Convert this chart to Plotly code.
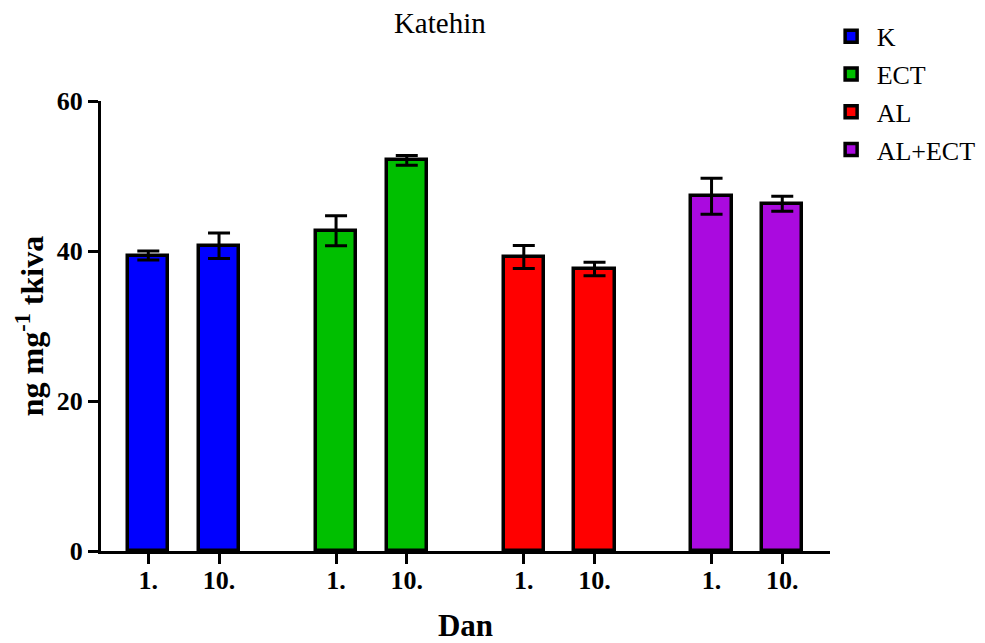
import plotly.graph_objects as go

groups = ["K", "ECT", "AL", "AL+ECT"]
days = ["1.", "10."]
means = {
    "K": [39.4, 40.7],
    "ECT": [42.7, 52.1],
    "AL": [39.2, 37.6],
    "AL+ECT": [47.3, 46.3],
}
errors = {
    "K": [0.6, 1.7],
    "ECT": [2.0, 0.65],
    "AL": [1.55, 0.9],
    "AL+ECT": [2.4, 1.0],
}
colors = {"K": "#0000FF", "ECT": "#00BF00", "AL": "#FF0000", "AL+ECT": "#AA0ADF"}

group_step = 2.655
fig = go.Figure()
tickvals, ticktext = [], []
for gi, g in enumerate(groups):
    xs = [gi * group_step + di for di in range(len(days))]
    tickvals += xs
    ticktext += days
    fig.add_trace(go.Bar(
        x=xs, y=means[g], name=g, width=0.57,
        marker=dict(color=colors[g], line=dict(color="black", width=3.5)),
        error_y=dict(type="data", array=errors[g], visible=True,
                     color="black", thickness=3, width=11),
        legendgroup=g,
    ))

font = "Liberation Serif, Times New Roman, serif"
fig.update_layout(
    width=977, height=635,
    margin=dict(l=93, r=155, t=93, b=92, autoexpand=False),
    plot_bgcolor="white", paper_bgcolor="white",
    font=dict(family=font, color="black"),
    title=dict(text="Katehin", x=0.442, xanchor="center", y=0.993, yanchor="top",
               font=dict(size=29, family=font)),
    showlegend=True,
    legend=dict(x=0.994, y=1.196, xanchor="left", yanchor="top",
                font=dict(size=26, family=font), tracegroupgap=1, itemwidth=41,
                bgcolor="rgba(0,0,0,0)"),
    bargap=0,
)
fig.update_xaxes(
    range=[-0.669, 9.64], tickvals=tickvals, ticktext=ticktext,
    showline=True, linecolor="black", linewidth=3,
    ticks="outside", ticklen=10, tickwidth=3, tickcolor="black",
    tickfont=dict(size=26, family=font, weight="bold"), ticklabelstandoff=-6,
    title=dict(text="<b>Dan</b>", font=dict(size=31, family=font), standoff=22),
    showgrid=False, zeroline=False, automargin=False,
)
fig.update_yaxes(
    range=[0, 60], tickvals=[0, 20, 40, 60],
    showline=True, linecolor="black", linewidth=3,
    ticks="outside", ticklen=10, tickwidth=3, tickcolor="black",
    tickfont=dict(size=26, family=font, weight="bold"),
    title=dict(text="<b>ng mg<sup>-1</sup> tkiva</b>", font=dict(size=32, family=font), standoff=4),
    showgrid=False, zeroline=False, automargin=False,
)
fig.write_html("out.html")
